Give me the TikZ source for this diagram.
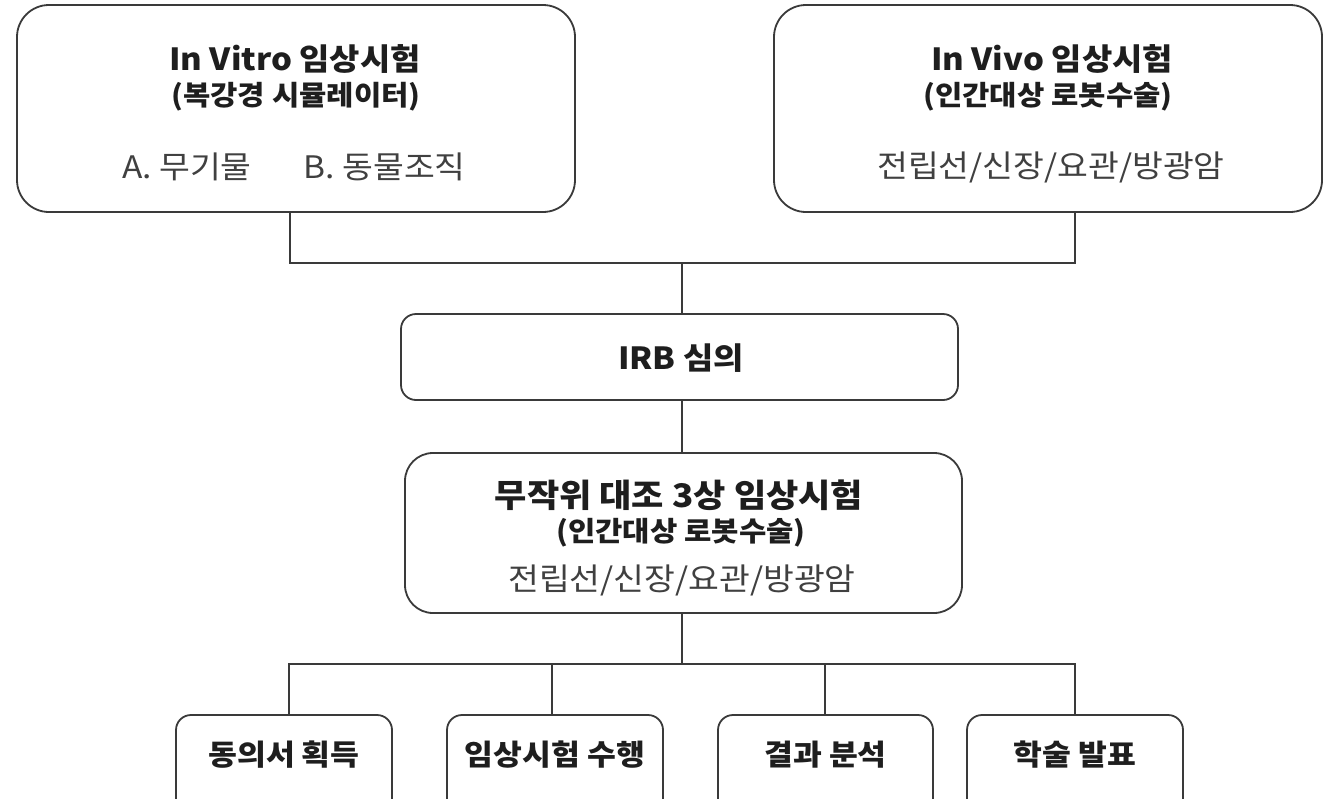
\documentclass[tikz,border=0pt]{standalone}
\usepackage{fontspec}
\setmainfont{Noto Sans CJK KR}[FakeStretch=1.08]
\definecolor{linec}{HTML}{3A3A3A}
\definecolor{txtc}{HTML}{1E1E1E}
\tikzset{
  box/.style={draw=linec, line width=1.8pt, rounded corners=#1, fill=white, inner sep=0pt},
  box/.default=15pt,
  conn/.style={draw=linec, line width=1.8pt},
  ttl/.style={text=txtc, font=\bfseries\fontsize{30.5}{34}\selectfont, inner sep=0pt},
  sub/.style={text=txtc, font=\bfseries\fontsize{27.5}{30}\selectfont, inner sep=0pt},
  reg/.style={text=txtc!85!white, font=\fontsize{31}{35}\selectfont, inner sep=0pt},
  btx/.style={text=txtc, font=\bfseries\fontsize{29}{32}\selectfont, inner sep=0pt}
}
\begin{document}
\begin{tikzpicture}[x=1pt,y=-1pt]
\useasboundingbox[fill=white] (0,0) rectangle (1327,798);
\clip (0,0) rectangle (1327,798);
% top boxes
\node[box=32pt, minimum width=558pt, minimum height=207pt] (vitro) at (296,108.5) {};
\node[box=32pt, minimum width=548pt, minimum height=207pt] (vivo) at (1048,108.5) {};
\node[ttl] (vitroT) at (295,59) {In Vitro 임상시험};
\node[sub] (vitroS) at (296,97) {(복강경 시뮬레이터)};
\node[reg] (vitroR) at (294,167) {A. 무기물\hspace{52pt}B. 동물조직};
\node[ttl] (vivoT) at (1052,59) {In Vivo 임상시험};
\node[sub] (vivoS) at (1048,97) {(인간대상 로봇수술)};
\node[reg] (vivoR) at (1051,167) {전립선/신장/요관/방광암};
% IRB
\node[box=15pt, minimum width=557pt, minimum height=86pt] (irb) at (679.5,357) {};
\node[ttl] (irbT) at (681,358) {IRB 심의};
% connectors
\coordinate (tj) at (682,263);
\coordinate (bj) at (682,664);
\draw[conn] ([xshift=-6pt]vitro.south) |- (tj) -| ([xshift=27pt]vivo.south);
\draw[conn] (tj) -- (irb.north -| tj);
\draw[conn] (irb.south -| tj) -- (bj);
% main
\node[box=28pt, minimum width=557pt, minimum height=160pt] (main) at (683.5,533) {};
\node[ttl, font=\bfseries\fontsize{32.5}{36}\selectfont] (mainT) at (679,495) {무작위 대조 3상 임상시험};
\node[sub] (mainS) at (681,533) {(인간대상 로봇수술)};
\node[reg] (mainR) at (682,580) {전립선/신장/요관/방광암};
% bottom boxes
\node[box=15pt, minimum width=216pt, minimum height=105pt] (b1) at (284,767.5) {};
\node[box=15pt, minimum width=216pt, minimum height=105pt] (b2) at (555,767.5) {};
\node[box=15pt, minimum width=215pt, minimum height=105pt] (b3) at (825.5,767.5) {};
\node[box=15pt, minimum width=216pt, minimum height=105pt] (b4) at (1075,767.5) {};
\node[btx] (b1T) at (284,755) {동의서 획득};
\node[btx] (b2T) at (555,755) {임상시험 수행};
\node[btx] (b3T) at (825.5,755) {결과 분석};
\node[btx] (b4T) at (1075,755) {학술 발표};
\draw[conn] ([xshift=5pt]b1.north) -- ([xshift=5pt]b1.north |- bj) -- (bj) -| (b4.north);
\draw[conn] ([xshift=-3pt]b2.north) -- ([xshift=-3pt]b2.north |- bj);
\draw[conn] ([xshift=-0.5pt]b3.north) -- ([xshift=-0.5pt]b3.north |- bj);
\end{tikzpicture}
\end{document}
